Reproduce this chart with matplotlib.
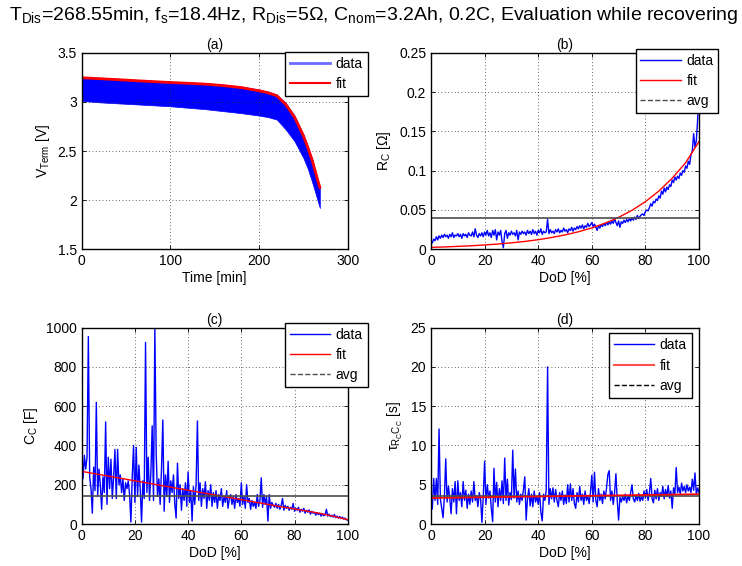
import numpy as np
import matplotlib
matplotlib.use("Agg")
import matplotlib.pyplot as plt
from matplotlib.lines import Line2D

plt.rcParams['font.family'] = ['Liberation Sans', 'DejaVu Sans']
plt.rcParams['mathtext.fontset'] = 'custom'
plt.rcParams['mathtext.rm'] = 'Liberation Sans'
plt.rcParams['mathtext.it'] = 'Liberation Sans:italic'
plt.rcParams['mathtext.default'] = 'regular'

# ---------------- (a) terminal voltage over time ----------------
time_min = [0, 20, 40, 60, 80, 100, 120, 140, 160, 180, 200, 210, 220, 230,
            240, 250, 255, 260, 265, 268.55]
v_upper = [3.255, 3.245, 3.235, 3.225, 3.215, 3.205, 3.198, 3.19, 3.175, 3.155,
           3.125, 3.105, 3.075, 2.99, 2.86, 2.67, 2.55, 2.42, 2.25, 2.13]
v_lower = [3.01, 2.995, 2.985, 2.975, 2.965, 2.955, 2.94, 2.925, 2.905, 2.885,
           2.86, 2.845, 2.82, 2.72, 2.60, 2.43, 2.32, 2.18, 2.03, 1.92]
v_fit = [3.245, 3.236, 3.226, 3.216, 3.206, 3.197, 3.189, 3.18, 3.165, 3.145,
         3.113, 3.093, 3.062, 2.975, 2.845, 2.655, 2.535, 2.405, 2.24, 2.13]

# ---------------- DoD grid for (b), (c), (d) ----------------
dod = [i * 0.5 for i in range(201)]
dod_fit = [i * 5 for i in range(21)]

# (b) R_C [Ohm]
rc_data = [
    0.010, 0.008, 0.013, 0.011, 0.016, 0.012, 0.017, 0.014, 0.018, 0.015,
    0.019, 0.016, 0.018, 0.014, 0.019, 0.016, 0.021, 0.015, 0.018, 0.017,
    0.020, 0.016, 0.019, 0.014, 0.020, 0.017, 0.019, 0.015, 0.021, 0.018,
    0.017, 0.022, 0.016, 0.026, 0.018, 0.015, 0.020, 0.017, 0.021, 0.016,
    0.022, 0.018, 0.024, 0.017, 0.021, 0.015, 0.024, 0.018, 0.025, 0.012,
    0.022, 0.018, 0.024, 0.010, 0.002, 0.020, 0.024, 0.014, 0.021, 0.018,
    0.023, 0.019, 0.021, 0.017, 0.024, 0.012, 0.022, 0.019, 0.023, 0.020,
    0.022, 0.018, 0.024, 0.020, 0.023, 0.019, 0.025, 0.020, 0.023, 0.018,
    0.024, 0.021, 0.026, 0.019, 0.023, 0.021, 0.022, 0.038, 0.020, 0.025,
    0.021, 0.023, 0.020, 0.025, 0.022, 0.026, 0.021, 0.024, 0.022, 0.027,
    0.023, 0.025, 0.021, 0.026, 0.024, 0.028, 0.023, 0.027, 0.025, 0.029,
    0.026, 0.030, 0.027, 0.031, 0.026, 0.030, 0.028, 0.033, 0.029, 0.031,
    0.034, 0.029, 0.032, 0.028, 0.024, 0.030, 0.027, 0.031, 0.029, 0.033,
    0.030, 0.034, 0.031, 0.035, 0.032, 0.036, 0.033, 0.039, 0.034, 0.030,
    0.036, 0.028, 0.035, 0.033, 0.037, 0.034, 0.038, 0.035, 0.039, 0.036,
    0.040, 0.037, 0.041, 0.038, 0.043, 0.039, 0.042, 0.044, 0.045, 0.043,
    0.048, 0.050, 0.049, 0.053, 0.058, 0.055, 0.061, 0.059, 0.064, 0.062,
    0.068, 0.065, 0.074, 0.070, 0.078, 0.073, 0.079, 0.076, 0.082, 0.080,
    0.088, 0.085, 0.092, 0.088, 0.093, 0.090, 0.097, 0.094, 0.100, 0.098,
    0.106, 0.103, 0.112, 0.108, 0.120, 0.125, 0.147, 0.130, 0.138, 0.165,
    0.200]
rc_fit = [0.0025, 0.0030, 0.0037, 0.0045, 0.0055, 0.0067, 0.0082, 0.0100,
          0.0122, 0.0150, 0.0183, 0.0223, 0.0272, 0.0333, 0.0406, 0.0496,
          0.0606, 0.0740, 0.0904, 0.1100, 0.1370]
rc_avg = 0.0398

# (c) C_C [F]
cc_data = [
    400, 230, 350, 280, 340, 955, 240, 180, 55, 290,
    170, 620, 140, 280, 200, 75, 240, 160, 520, 100,
    340, 180, 330, 130, 240, 380, 130, 380, 200, 250,
    160, 230, 120, 210, 180, 220, 150, 10, 240, 400,
    110, 390, 140, 300, 180, 10, 220, 130, 925, 160,
    340, 120, 260, 500, 120, 1000, 360, 140, 230, 100,
    280, 530, 65, 250, 140, 320, 110, 220, 160, 250,
    100, 30, 310, 130, 200, 70, 180, 120, 210, 90,
    265, 110, 170, 15, 190, 100, 200, 525, 120, 210,
    90, 180, 130, 215, 80, 170, 120, 200, 90, 160,
    110, 170, 80, 150, 120, 180, 90, 140, 110, 170,
    80, 130, 150, 100, 140, 80, 150, 110, 130, 90,
    210, 100, 140, 80, 200, 110, 130, 75, 120, 90,
    110, 80, 150, 90, 120, 235, 85, 150, 100, 140,
    15, 150, 80, 110, 95, 85, 105, 80, 100, 75,
    95, 130, 70, 95, 80, 90, 70, 85, 75, 105,
    65, 80, 70, 85, 60, 75, 65, 80, 55, 70,
    60, 72, 50, 65, 55, 60, 45, 58, 48, 55,
    40, 52, 42, 48, 75, 40, 50, 38, 45, 35,
    48, 32, 40, 30, 38, 28, 35, 25, 30, 22,
    20]
cc_fit = [268, 256, 244, 232, 220, 208, 196, 184, 172, 160, 148, 136, 124,
          112, 100, 88, 77, 65, 53, 38, 22]
cc_avg = 143

# (d) time constant tau [s]
tau_data = [
    3.8, 1.9, 5.8, 3.0, 5.8, 2.5, 12.1, 3.2, 2.0, 0.8,
    3.5, 8.3, 2.8, 4.8, 3.3, 1.3, 4.5, 2.8, 5.4, 1.3,
    5.5, 3.0, 4.0, 2.2, 5.4, 3.0, 4.3, 2.0, 3.8, 2.5,
    4.2, 2.8, 5.4, 3.0, 3.6, 2.2, 4.0, 3.2, 0.2, 3.5,
    8.0, 2.5, 5.0, 3.3, 4.2, 2.0, 0.3, 7.1, 2.8, 5.3,
    2.2, 4.5, 3.0, 5.5, 2.6, 8.4, 3.0, 5.7, 2.4, 4.0,
    3.1, 9.4, 3.3, 7.0, 2.8, 4.2, 2.5, 3.8, 3.0, 4.4,
    6.0, 0.5, 3.2, 4.5, 2.3, 3.8, 2.2, 4.2, 2.8, 3.5,
    2.5, 4.0, 1.5, 0.4, 3.8, 3.0, 4.3, 20.0, 2.5, 4.5,
    3.2, 4.6, 2.8, 4.4, 3.0, 2.2, 4.0, 3.0, 4.2, 2.5,
    3.7, 2.6, 5.0, 2.8, 5.1, 3.0, 4.5, 2.6, 2.0, 4.0,
    2.8, 4.8, 3.0, 3.8, 2.5, 4.2, 3.0, 3.6, 2.6, 4.0,
    6.2, 2.8, 6.6, 3.0, 2.2, 4.5, 3.0, 3.8, 2.6, 4.2,
    3.2, 4.6, 6.3, 6.8, 3.0, 4.2, 2.5, 4.0, 6.4, 3.0,
    0.5, 3.4, 2.8, 3.5, 3.0, 3.8, 2.7, 3.6, 3.0, 4.0,
    5.0, 3.2, 2.8, 3.6, 3.0, 3.9, 2.9, 3.5, 3.0, 4.2,
    3.3, 4.4, 3.0, 4.0, 5.8, 3.2, 2.7, 4.3, 3.2, 4.5,
    3.0, 4.0, 3.5, 4.8, 3.2, 4.4, 3.5, 4.9, 3.3, 4.2,
    2.0, 4.6, 3.8, 7.2, 4.0, 4.7, 3.8, 5.2, 4.2, 4.8,
    4.0, 5.0, 4.2, 4.7, 4.0, 5.7, 4.3, 6.5, 3.8, 4.6,
    4.0]
tau_fit = [3.30, 3.33, 3.35, 3.38, 3.40, 3.43, 3.45, 3.48, 3.50, 3.53, 3.55,
           3.58, 3.60, 3.63, 3.65, 3.68, 3.70, 3.73, 3.75, 3.78, 3.80]
tau_avg = 3.6

# ---------------- figure ----------------
W, H = 742, 566
fig = plt.figure(figsize=(W / 100, H / 100), dpi=100)

def px_axes(l, t, r, b):
    return fig.add_axes([l / W, 1 - b / H, (r - l) / W, (b - t) / H])

ax_a = px_axes(81.7, 52.7, 347.7, 249.3)
ax_b = px_axes(431, 52.7, 699, 249.3)
ax_c = px_axes(81.7, 327.7, 347.7, 524)
ax_d = px_axes(431, 327.7, 699, 524)

FS = 10
BLUE = '#0000ff'
RED = '#ff0000'
GRAY = '#4d4d4d'

def style(ax, title):
    ax.grid(True, linestyle=(0, (1, 3)), color='#333333', linewidth=0.6)
    ax.tick_params(direction='in', length=3, labelsize=FS, width=0.6,
                   top=True, right=True)
    for s in ax.spines.values():
        s.set_linewidth(1.0)
        s.set_color('black')
    ax.set_title(title, fontsize=10, pad=3)

def legend(ax, handles, labels, anchor):
    lg = ax.legend(handles, labels, loc='upper right', bbox_to_anchor=anchor,
                   borderaxespad=0, fontsize=FS, frameon=True, fancybox=False,
                   framealpha=1, edgecolor='black', handlelength=2.9,
                   handletextpad=0.4, borderpad=0.35, labelspacing=0.45)
    lg.get_frame().set_linewidth(1.0)
    lg.set_zorder(10)

# (a)
ax_a.fill_between(time_min, v_lower, v_upper, color=BLUE, linewidth=0.5,
                  edgecolor=BLUE)
ax_a.plot(time_min, v_fit, color=RED, linewidth=2)
ax_a.set_xlim(0, 300)
ax_a.set_ylim(1.5, 3.5)
ax_a.set_xticks([0, 100, 200, 300])
ax_a.set_yticks([1.5, 2, 2.5, 3, 3.5])
ax_a.set_yticklabels(['1.5', '2', '2.5', '3', '3.5'])
ax_a.set_xlabel('Time [min]', fontsize=FS, labelpad=2)
ax_a.set_ylabel(r'$\mathregular{V_{Term}}$ [V]', fontsize=FS)
style(ax_a, '(a)')
legend(ax_a,
       [Line2D([], [], color='#6b6bff', lw=2), Line2D([], [], color=RED, lw=1.5)],
       ['data', 'fit'], (1.075, 1.005))

# (b)
ax_b.plot(dod, rc_data, color=BLUE, linewidth=1)
ax_b.plot(dod_fit, rc_fit, color=RED, linewidth=1)
ax_b.axhline(rc_avg, color=GRAY, linewidth=1.2)
ax_b.set_xlim(0, 100)
ax_b.set_ylim(0, 0.25)
ax_b.set_xticks(range(0, 101, 20))
ax_b.set_yticks([0, 0.05, 0.1, 0.15, 0.2, 0.25])
ax_b.set_yticklabels(['0', '0.05', '0.1', '0.15', '0.2', '0.25'])
ax_b.set_xlabel('DoD [%]', fontsize=FS, labelpad=2)
ax_b.set_ylabel(r'$\mathregular{R_C}$ [Ω]', fontsize=FS)
style(ax_b, '(b)')
avg_handle = Line2D([], [], color=GRAY, lw=1, linestyle='--')
legend(ax_b,
       [Line2D([], [], color=BLUE, lw=1), Line2D([], [], color=RED, lw=1),
        avg_handle],
       ['data', 'fit', 'avg'], (1.072, 1.019))

# (c)
ax_c.plot(dod, cc_data, color=BLUE, linewidth=1)
ax_c.plot(dod_fit, cc_fit, color=RED, linewidth=1)
ax_c.axhline(cc_avg, color=GRAY, linewidth=1.2)
ax_c.set_xlim(0, 100)
ax_c.set_ylim(0, 1000)
ax_c.set_xticks(range(0, 101, 20))
ax_c.set_yticks(range(0, 1001, 200))
ax_c.set_xlabel('DoD [%]', fontsize=FS, labelpad=2)
ax_c.set_ylabel(r'$\mathregular{C_C}$ [F]', fontsize=FS)
style(ax_c, '(c)')
legend(ax_c,
       [Line2D([], [], color=BLUE, lw=1), Line2D([], [], color=RED, lw=1),
        Line2D([], [], color=GRAY, lw=1, linestyle='--')],
       ['data', 'fit', 'avg'], (1.075, 1.025))

# (d)
ax_d.plot(dod, tau_data, color=BLUE, linewidth=1)
ax_d.axhline(tau_avg, color=GRAY, linewidth=1.2)
ax_d.plot(dod_fit, tau_fit, color=RED, linewidth=1.2)
ax_d.set_xlim(0, 100)
ax_d.set_ylim(0, 25)
ax_d.set_xticks(range(0, 101, 20))
ax_d.set_yticks(range(0, 26, 5))
ax_d.set_xlabel('DoD [%]', fontsize=FS, labelpad=2)
ax_d.set_ylabel(r'$\mathregular{\tau_{R_{C}C_{C}}}$ [s]', fontsize=FS)
style(ax_d, '(d)')
legend(ax_d,
       [Line2D([], [], color=BLUE, lw=1), Line2D([], [], color='#ff5050', lw=1.5),
        Line2D([], [], color='black', lw=1, linestyle='--')],
       ['data', 'fit', 'avg'], (0.973, 0.971))

fig.text(374 / W, 1 - 20 / H,
         r'$\mathregular{T_{Dis}}$=268.55min, $\mathregular{f_s}$=18.4Hz, '
         r'$\mathregular{R_{Dis}}$=5Ω, $\mathregular{C_{nom}}$=3.2Ah, 0.2C, '
         'Evaluation while recovering',
         ha='center', va='baseline', fontsize=14)

fig.savefig('out.png', dpi=100)
